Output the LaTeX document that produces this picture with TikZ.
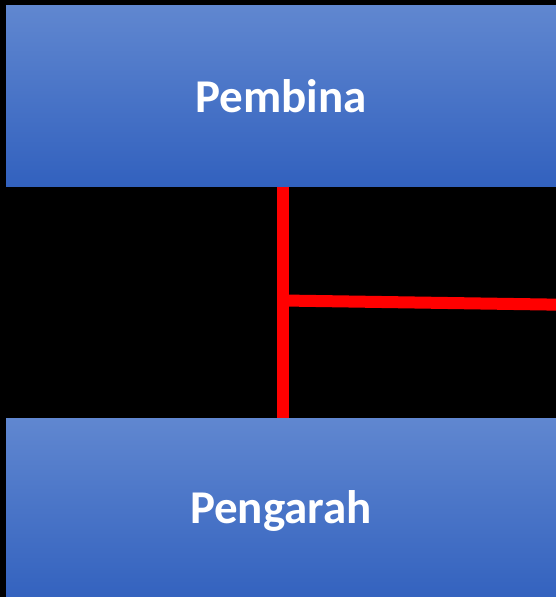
\documentclass[tikz,border=0pt]{standalone}
\usepackage{fontspec}
\newfontfamily\boxfont{Carlito}
\usepackage{tikz}
\usetikzlibrary{calc, positioning}
\definecolor{boxtop}{RGB}{96,135,208}
\definecolor{boxbot}{RGB}{50,97,190}
\definecolor{linkred}{RGB}{255,0,0}

\tikzset{
  orgbox/.style={rectangle, inner sep=0pt, minimum width=550pt, minimum height=181pt,
    top color=boxtop, bottom color=boxbot, text=white,
    font=\boxfont\bfseries\fontsize{47}{56}\selectfont},
  orglink/.style={linkred, line width=12pt}
}

\begin{document}
\begin{tikzpicture}[x=1pt, y=-1pt]
  \useasboundingbox (0,0) rectangle (556,597);
  \clip (0,0) rectangle (556,597);
  \fill[black] (0,0) rectangle (556,597);
  % boxes
  \node[orgbox] (pembina) at (281,96) {Pembina};
  \node[orgbox, minimum height=186pt] (pengarah) at (281,511) {Pengarah};
  % connectors
  \coordinate (tap) at (283,300.5);
  \coordinate (edge) at (560,304.7);
  \draw[orglink] (pembina.south -| tap) -- (pengarah.north -| tap);
  \draw[orglink] (tap) -- (edge);
\end{tikzpicture}
\end{document}
